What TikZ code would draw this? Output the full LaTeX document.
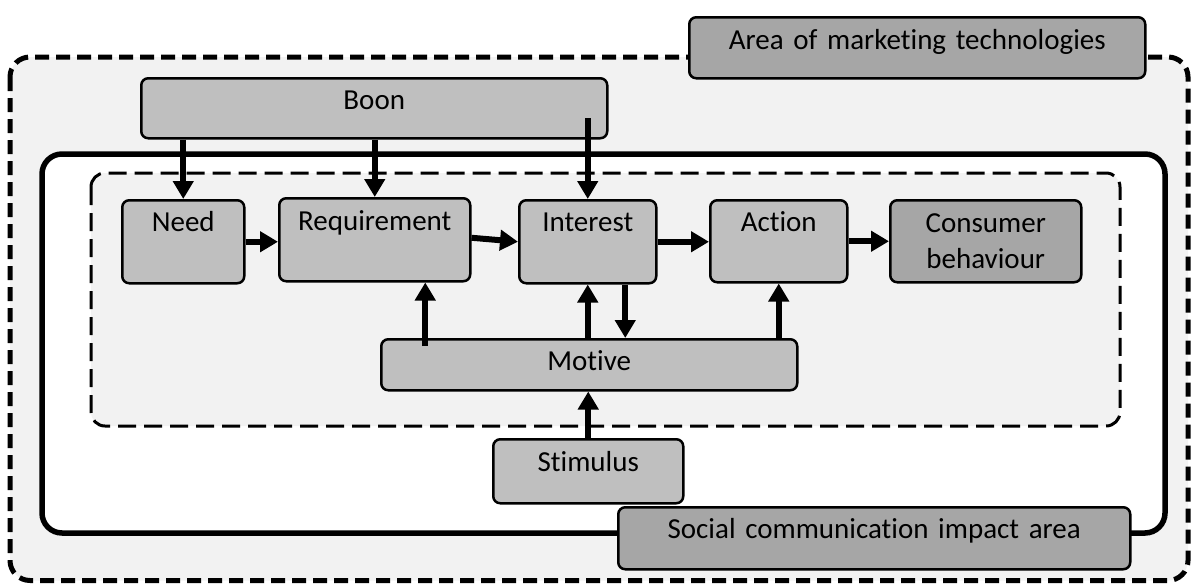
\documentclass[tikz,border=0pt]{standalone}
\usepackage{fontspec}
\setmainfont{Carlito}[RawFeature={-liga}]
\usetikzlibrary{arrows.meta,calc}
\definecolor{bgarea}{HTML}{F2F2F2}
\definecolor{lightbox}{HTML}{BFBFBF}
\definecolor{darkbox}{HTML}{A6A6A6}
\begin{document}
\begin{tikzpicture}[x=1pt,y=-1pt,
  font=\fontsize{29}{36}\selectfont,
  boxbase/.style={draw=black,line width=2.5pt,rounded corners=7pt,inner sep=0pt,
    align=center,anchor=north west},
  lbox/.style={boxbase,fill=lightbox},
  dbox/.style={boxbase,fill=darkbox},
  arr/.style={line width=6pt,-{Triangle[length=18pt,width=20pt]}},
  outerarea/.style={draw=black,fill=bgarea,line width=5pt,dash pattern=on 14pt off 7pt,rounded corners=20pt},
  socialarea/.style={draw=black,fill=white,line width=5.5pt,rounded corners=20pt},
  innerarea/.style={draw=black,fill=bgarea,line width=3pt,dash pattern=on 18pt off 8pt,rounded corners=14pt}]
\useasboundingbox (0,0) rectangle (1196,584);
% containers
\draw[outerarea] (10,57) rectangle (1188,580.5);
\draw[socialarea] (42,154) rectangle (1165,533);
\draw[innerarea] (91,173) rectangle (1120,426);
% boxes
\node[dbox,text width=456pt,text height=32pt,text depth=29pt] (area) at (688,16) {Area of marketing technologies};
\node[lbox,text width=466pt,text height=31pt,text depth=29pt] (boon) at (140,77) {Boon};
\node[lbox,text width=122pt,text height=31pt,text depth=52pt] (need) at (121,199) {Need};
\node[lbox,text width=191pt,text height=32pt,text depth=51pt] (req) at (278,197) {Requirement};
\node[lbox,text width=137pt,text height=31pt,text depth=52pt] (interest) at (518,199) {Interest};
\node[lbox,text width=137pt,text height=31pt,text depth=51pt] (action) at (709,199) {Action};
\node[dbox,text width=191pt,text height=32pt,text depth=50pt] (consumer) at (889,199) {Consumer\\behaviour};
\node[lbox,text width=416pt,text height=31pt,text depth=20pt] (motive) at (380,338) {Motive};
\node[lbox,text width=190pt,text height=32pt,text depth=32pt] (stimulus) at (492,438) {Stimulus};
\node[dbox,text width=512pt,text height=31pt,text depth=31pt] (social) at (617,506) {Social communication impact area};
% arrows
\draw[arr] (boon.south -| need.north) -- (need.north);
\draw[arr] (boon.south -| req.north) -- (req.north);
\draw[arr] ($(interest.north |- boon.center)+(0,10)$) -- (interest.north);
\draw[arr] (need.east) -- (need.east -| req.west);
\draw[arr] ([yshift=2pt]req.east) -- (interest.west);
\draw[arr] (interest.east) -- (interest.east -| action.west);
\draw[arr] (action.east) -- (action.east -| consumer.west);
\coordinate (mreq) at ($(req.south)+(50.5,0)$);
\draw[arr] ($(mreq |- motive.north)+(0,8)$) -- (mreq);
\draw[arr] (interest.south |- motive.north) -- (interest.south);
\coordinate (imot) at ($(interest.south)+(37.5,0)$);
\draw[arr] (imot) -- (imot |- motive.north);
\draw[arr] (action.south |- motive.north) -- (action.south);
\draw[arr] (stimulus.north) -- (stimulus.north |- motive.south);
\end{tikzpicture}
\end{document}
